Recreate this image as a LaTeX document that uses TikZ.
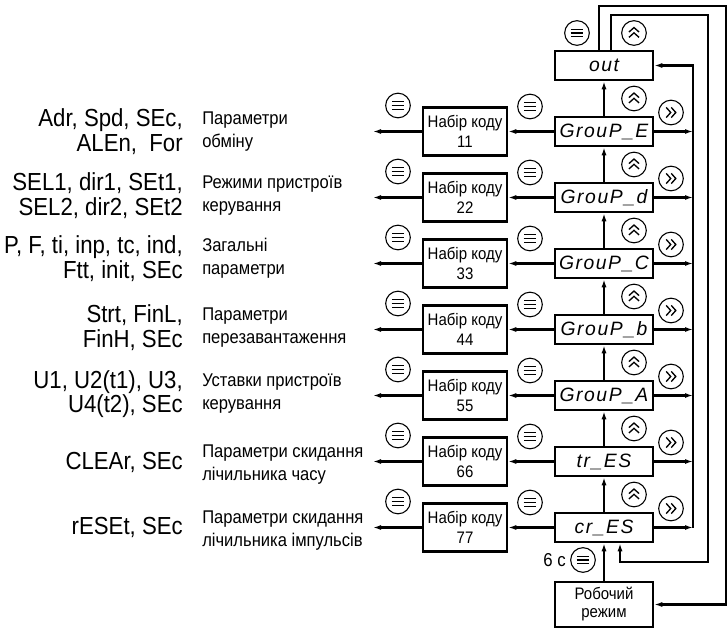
\documentclass[tikz,border=0pt]{standalone}
\usepackage{fontspec}
\setmainfont[FakeStretch=0.9]{Liberation Sans}
\newfontfamily\segf[LetterSpace=8]{Liberation Sans}
\usetikzlibrary{arrows.meta}
\tikzset{
  conn/.style={line width=1.6pt},
  tip/.style={-{Latex[length=6pt,width=3.8pt]}},
  box/.style={draw, line width=1.9pt, inner sep=0pt, align=center},
  grp/.style={box, minimum width=73.5pt, minimum height=21.75pt,
    font=\segf\itshape\fontsize{14.5}{14.5}\selectfont},
  nab/.style={box, minimum width=63pt, minimum height=36pt,
    font=\fontsize{12.5}{15}\selectfont},
  rob/.style={box, minimum width=73.5pt, minimum height=33.75pt,
    font=\fontsize{12.5}{13.5}\selectfont},
  codetxt/.style={anchor=east, align=right, inner sep=0pt,
    font=\fontsize{18.5}{18.5}\selectfont},
  desctxt/.style={anchor=west, align=left, inner sep=0pt,
    font=\fontsize{13.8}{17.25}\selectfont},
  ico/.style={circle, draw, line width=0.8pt, minimum size=18.5pt, inner sep=0pt},
  menuic/.style={ico, path picture={
    \draw[line width=1pt]
      ([shift={(-4.4pt,2.8pt)}]path picture bounding box.center) -- ++(8.8pt,0pt)
      ([shift={(-4.8pt,0pt)}]path picture bounding box.center) -- ++(9.6pt,0pt)
      ([shift={(-4.4pt,-2.8pt)}]path picture bounding box.center) -- ++(8.8pt,0pt);}},
  upic/.style={ico, path picture={
    \draw[line width=1pt]
      ([shift={(-3.8pt,0.7pt)}]path picture bounding box.center) -- ++(3.8pt,3.4pt) -- ++(3.8pt,-3.4pt)
      ([shift={(-3.8pt,-3.3pt)}]path picture bounding box.center) -- ++(3.8pt,3.4pt) -- ++(3.8pt,-3.4pt);}},
  rtic/.style={ico, path picture={
    \draw[line width=1pt]
      ([shift={(-3.6pt,3.8pt)}]path picture bounding box.center) -- ++(3.4pt,-3.8pt) -- ++(-3.4pt,-3.8pt)
      ([shift={(0.2pt,3.8pt)}]path picture bounding box.center) -- ++(3.4pt,-3.8pt) -- ++(-3.4pt,-3.8pt);}},
}
\begin{document}
\begin{tikzpicture}[x=0.75pt,y=-0.75pt]
\useasboundingbox (0,0) rectangle (728,628);

% right column
\node[grp] (out) at (604,65.5) {out};
\node[grp] (gE) at (604,131.5) {GrouP\_E};
\node[grp] (gd) at (604,197.5) {GrouP\_d};
\node[grp] (gC) at (604,263.5) {GrouP\_C};
\node[grp] (gb) at (604,329.5) {GrouP\_b};
\node[grp] (gA) at (604,395.5) {GrouP\_A};
\node[grp] (gtr) at (604,461.5) {tr\_ES};
\node[grp] (gcr) at (604,527.5) {cr\_ES};
\node[rob] (rob) at (604,604.5) {Робочий\\режим};

% code boxes
\node[nab] (n1) at (465,131.5) {Набір коду\\11};
\node[nab] (n2) at (465,197.5) {Набір коду\\22};
\node[nab] (n3) at (465,263.5) {Набір коду\\33};
\node[nab] (n4) at (465,329.5) {Набір коду\\44};
\node[nab] (n5) at (465,395.5) {Набір коду\\55};
\node[nab] (n6) at (465,461.5) {Набір коду\\66};
\node[nab] (n7) at (465,527.5) {Набір коду\\77};

% left texts
\node[codetxt] (t1) at (183,131.5) {Adr, Spd, SEc,\\ALEn,\ \ For};
\node[codetxt] (t2) at (183,195.5) {SEL1, dir1, SEt1,\\SEL2, dir2, SEt2};
\node[codetxt] (t3) at (183,258.5) {P, F, ti, inp, tc, ind,\\Ftt, init, SEc};
\node[codetxt] (t4) at (183,327.5) {Strt, FinL,\\FinH, SEc};
\node[codetxt] (t5) at (183,394) {U1, U2(t1), U3,\\U4(t2), SEc};
\node[codetxt] (t6) at (183,462) {CLEAr, SEc};
\node[codetxt] (t7) at (183,527) {rESEt, SEc};

\node[desctxt] (d1) at (202,131.5) {Параметри\\обміну};
\node[desctxt] (d2) at (202,195.5) {Режими пристроїв\\керування};
\node[desctxt] (d3) at (202,258.5) {Загальні\\параметри};
\node[desctxt] (d4) at (202,327.5) {Параметри\\перезавантаження};
\node[desctxt] (d5) at (202,394) {Уставки пристроїв\\керування};
\node[desctxt] (d6) at (202,465) {Параметри скидання\\лічильника часу};
\node[desctxt] (d7) at (202,531) {Параметри скидання\\лічильника імпульсів};

% left arrow ends and collector junctions
\foreach \i/\y in {1/131.5,2/197.5,3/263.5,4/329.5,5/395.5,6/461.5,7/527.5}{
  \coordinate (L\i) at (373,\y);
  \coordinate (J\i) at (693,\y);
}
\coordinate (c1) at (726,6);
\coordinate (c2) at (708,15);
\coordinate (c3) at (708,562);

% horizontal arrows
\foreach \g/\i in {gE/1,gd/2,gC/3,gb/4,gA/5,gtr/6,gcr/7}{
  \draw[conn,tip] (\g.west) -- (n\i.east);
  \draw[conn,tip] (n\i.west) -- (L\i);
  \draw[conn,tip] (\g.east) -- (J\i);
}

% vertical chain
\draw[conn,tip] (gE.north) -- (out.south);
\draw[conn,tip] (gd.north) -- (gE.south);
\draw[conn,tip] (gC.north) -- (gd.south);
\draw[conn,tip] (gb.north) -- (gC.south);
\draw[conn,tip] (gA.north) -- (gb.south);
\draw[conn,tip] (gtr.north) -- (gA.south);
\draw[conn,tip] (gcr.north) -- (gtr.south);
\draw[conn,tip] (rob.north) -- (gcr.south);

% collector to out
\draw[conn,tip] (J7) |- (out.east);
% outer loop: out -> Robochiy
\draw[conn,tip] ([xshift=-3.75pt]out.north) |- (c1) |- (rob.east);
% second loop: out -> cr_ES
\draw[conn,tip] ([xshift=5.25pt]out.north) |- (c2) -- (c3) -| ([xshift=12pt]gcr.south);

% icons
\node[menuic] (mo) at (577,33) {};
\node[upic] (uo) at (634,33) {};
\foreach \r/\y in {1/131.5,2/197.5,3/263.5,4/329.5,5/395.5,6/461.5,7/527.5}{
  \node[menuic] (ml\r) at (398,\y-26) {};
  \node[menuic] (mr\r) at (530,\y-25) {};
  \node[upic] (u\r) at (634,\y-33) {};
  \node[rtic] (r\r) at (671,\y-19) {};
}
\node[menuic] (mb) at (583,560) {};
\node[anchor=east, inner sep=0pt, font=\fontsize{14}{14}\selectfont] (sixs) at (566,560) {6 с};
\end{tikzpicture}
\end{document}
